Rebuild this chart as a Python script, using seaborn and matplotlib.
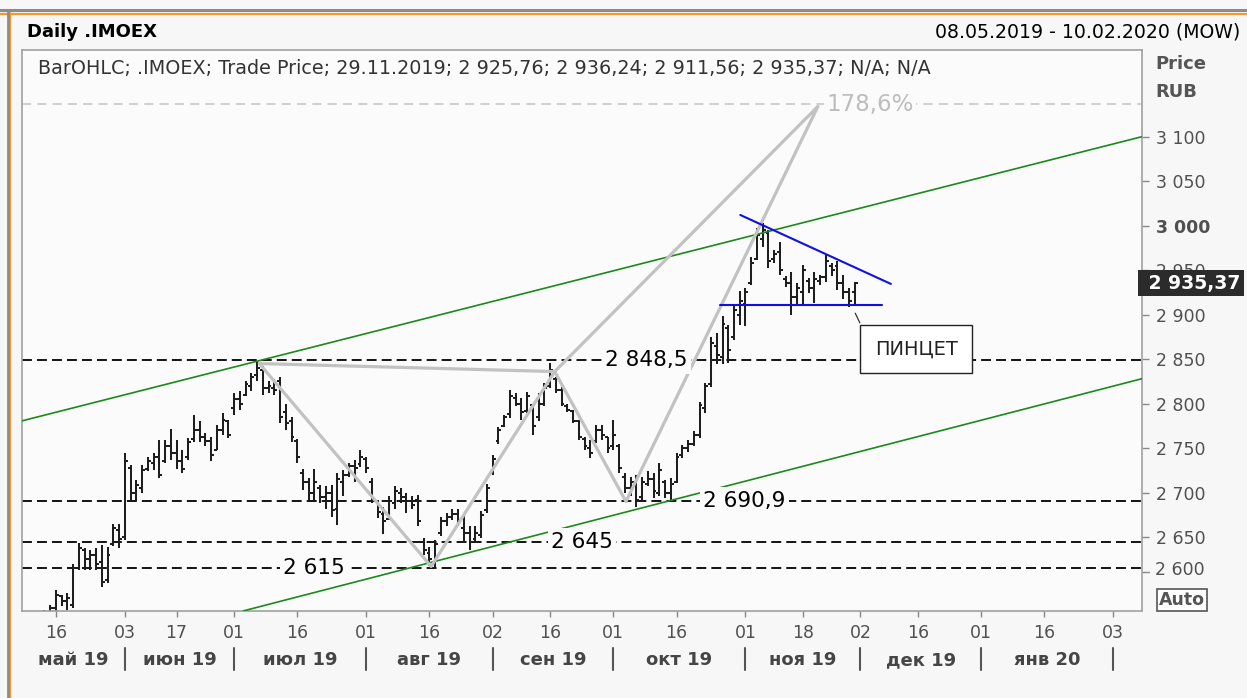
import matplotlib
matplotlib.use('Agg')
import matplotlib.pyplot as plt
import matplotlib.transforms as mtransforms
import seaborn as sns
import pandas as pd
import numpy as np

sns.set_style('white')
plt.rcParams['font.family'] = ['DejaVu Sans']

# daily bars, 08.05.2019 - 29.11.2019 (one value per trading day)
opens = [2535, 2525, 2505, 2560, 2570, 2584, 2578, 2574, 2615, 2636,
         2625, 2630, 2622, 2602, 2642, 2658, 2650, 2728, 2700, 2705,
         2726, 2733, 2740, 2735, 2752, 2745, 2735, 2740, 2760, 2770,
         2762, 2758, 2748, 2770, 2780, 2795, 2805, 2810, 2820, 2832,
         2838, 2818, 2818, 2825, 2790, 2780, 2758, 2722, 2712, 2700,
         2705, 2695, 2700, 2682, 2712, 2720, 2730, 2732, 2738, 2712,
         2690, 2676, 2670, 2688, 2700, 2695, 2690, 2692, 2645, 2632,
         2622, 2655, 2668, 2672, 2676, 2660, 2655, 2648, 2652, 2680,
         2722, 2758, 2775, 2788, 2806, 2800, 2792, 2798, 2785, 2800,
         2820, 2828, 2815, 2797, 2792, 2780, 2760, 2750, 2758, 2770,
         2762, 2752, 2752, 2718, 2705, 2712, 2695, 2710, 2715, 2700,
         2712, 2700, 2712, 2742, 2750, 2755, 2765, 2795, 2822, 2865,
         2852, 2885, 2875, 2900, 2912, 2935, 2962, 2985, 2992, 2962,
         2970, 2940, 2935, 2920, 2925, 2938, 2930, 2938, 2942, 2955,
         2955, 2935, 2925, 2925.76]
highs = [2545, 2530, 2568, 2574, 2590, 2585, 2587, 2620, 2643, 2638,
         2635, 2638, 2641, 2639, 2665, 2665, 2744, 2731, 2714, 2731,
         2740, 2744, 2759, 2759, 2772, 2759, 2748, 2761, 2787, 2780,
         2767, 2763, 2776, 2789, 2782, 2812, 2814, 2825, 2834, 2848,
         2842, 2825, 2828, 2830, 2800, 2785, 2760, 2727, 2716, 2727,
         2708, 2707, 2709, 2722, 2725, 2733, 2737, 2748, 2740, 2716,
         2692, 2684, 2696, 2707, 2705, 2699, 2696, 2697, 2649, 2639,
         2647, 2673, 2677, 2681, 2682, 2677, 2662, 2662, 2679, 2710,
         2742, 2774, 2787, 2815, 2812, 2806, 2813, 2800, 2812, 2823,
         2846, 2830, 2819, 2799, 2793, 2782, 2763, 2759, 2776, 2776,
         2763, 2782, 2755, 2722, 2718, 2720, 2718, 2724, 2722, 2733,
         2714, 2716, 2744, 2754, 2759, 2769, 2802, 2823, 2875, 2879,
         2898, 2888, 2911, 2926, 2930, 2965, 2997, 3003, 2995, 2973,
         2982, 2943, 2948, 2935, 2956, 2941, 2948, 2945, 2967, 2958,
         2960, 2945, 2930, 2936.24]
lows = [2520, 2495, 2500, 2545, 2566, 2572, 2568, 2570, 2613, 2613,
        2613, 2613, 2594, 2598, 2640, 2638, 2647, 2692, 2690, 2699,
        2724, 2725, 2716, 2733, 2737, 2727, 2722, 2737, 2757, 2757,
        2752, 2735, 2748, 2765, 2761, 2787, 2793, 2808, 2814, 2825,
        2810, 2812, 2810, 2778, 2770, 2757, 2733, 2703, 2692, 2692,
        2688, 2682, 2673, 2664, 2696, 2718, 2712, 2729, 2722, 2688,
        2671, 2654, 2669, 2681, 2688, 2677, 2682, 2662, 2630, 2617,
        2615, 2651, 2662, 2669, 2662, 2643, 2636, 2645, 2649, 2677,
        2720, 2755, 2774, 2784, 2797, 2782, 2789, 2765, 2780, 2797,
        2817, 2812, 2797, 2791, 2778, 2759, 2748, 2739, 2756, 2759,
        2744, 2748, 2722, 2699, 2696, 2684, 2692, 2707, 2694, 2696,
        2694, 2690, 2711, 2739, 2746, 2752, 2761, 2789, 2819, 2845,
        2845, 2846, 2872, 2888, 2887, 2933, 2961, 2976, 2952, 2958,
        2945, 2931, 2900, 2911, 2911, 2924, 2913, 2933, 2937, 2943,
        2928, 2918, 2909, 2911.56]
closes = [2525, 2505, 2560, 2570, 2585, 2578, 2582, 2615, 2638, 2625,
          2630, 2620, 2600, 2630, 2660, 2648, 2735, 2700, 2708, 2725,
          2735, 2740, 2720, 2752, 2745, 2735, 2726, 2757, 2770, 2762,
          2758, 2742, 2770, 2782, 2765, 2805, 2800, 2822, 2830, 2840,
          2818, 2820, 2815, 2785, 2778, 2762, 2740, 2712, 2700, 2712,
          2695, 2700, 2680, 2715, 2720, 2730, 2728, 2740, 2728, 2692,
          2678, 2668, 2690, 2702, 2695, 2690, 2686, 2668, 2635, 2625,
          2642, 2668, 2672, 2676, 2668, 2655, 2645, 2655, 2675, 2705,
          2738, 2770, 2785, 2808, 2800, 2790, 2808, 2775, 2800, 2818,
          2838, 2815, 2800, 2793, 2780, 2762, 2752, 2745, 2770, 2765,
          2750, 2765, 2728, 2705, 2712, 2692, 2712, 2715, 2702, 2725,
          2700, 2710, 2740, 2750, 2755, 2765, 2798, 2820, 2868, 2855,
          2890, 2860, 2905, 2915, 2925, 2958, 2990, 2995, 2960, 2968,
          2950, 2935, 2920, 2930, 2950, 2930, 2940, 2942, 2960, 2950,
          2935, 2925, 2915, 2935.37]

# trading calendar of the chart (past days + empty future area)
holidays = ['2019-05-09', '2019-05-10', '2019-06-12', '2019-11-04', '2019-12-31']
days = pd.bdate_range('2019-05-08', '2020-02-10')
days = days[~days.isin(pd.to_datetime(holidays))]

tick_days = ['2019-05-16', '2019-06-03', '2019-06-17', '2019-07-01', '2019-07-16',
             '2019-08-01', '2019-08-16', '2019-09-02', '2019-09-16', '2019-10-01',
             '2019-10-16', '2019-11-01', '2019-11-18', '2019-12-02', '2019-12-16',
             '2020-01-01', '2020-01-16', '2020-02-03']
month_starts = ['2019-06-03', '2019-07-01', '2019-08-01', '2019-09-02', '2019-10-01',
                '2019-11-01', '2019-12-02', '2020-01-01', '2020-02-03']
month_names = ['май 19', 'июн 19', 'июл 19', 'авг 19', 'сен 19',
               'окт 19', 'ноя 19', 'дек 19', 'янв 20']

price_ticks = [2650, 2700, 2750, 2800, 2850, 2900, 2950, 3000, 3050, 3100]

# drawn analysis: levels, channel, pattern, triangle
levels = [2848.5, 2690.9, 2645, 2615]
level_labels = ['2 848,5', '2 690,9', '2 645', '2 615']
level_label_pos = [106.7, 123.8, 95.6, 48.9]
ext_level = 3136.5
upper_channel_x, upper_channel_y = [-1.9, 193], [2780.6, 3100]
lower_channel_x, lower_channel_y = [36.6, 193], [2567, 2828]
pattern_x = [90.8, 39.4, 69.3, 90.8, 103.2, 136.6, 90.8]
pattern_y = [2836, 2845, 2617, 2836, 2690, 3134, 2836]
tri_top_x, tri_top_y = [123.1, 149.3], [3012, 2934.5]
tri_base_x, tri_base_y = [119.5, 147.7], [2910.6, 2910.6]

W, H = 1247, 698
fig = plt.figure(figsize=(W / 100, H / 100), dpi=100, facecolor='#f7f7f7')
ax = fig.add_axes([22 / W, 1 - 611 / H, 1120 / W, 561 / H], facecolor='#fbfbfb')
bg = '#fbfbfb'

x = np.arange(len(closes))
ink = '#1e1e1e'
ax.vlines(x, lows, highs, color=ink, lw=1.45, zorder=2)
ax.hlines(opens, x - 0.5, x, color=ink, lw=1.45, zorder=2)
ax.hlines(closes, x, x + 0.5, color=ink, lw=1.45, zorder=2)

for lv in levels:
    ax.axhline(lv, color='black', lw=1.3, ls=(0, (5.5, 2.8)), zorder=1)
for lv, lab, px in zip(levels, level_labels, level_label_pos):
    ax.text(px, lv, lab, ha='center', va='center', fontsize=15.5, color='black', zorder=4,
            bbox=dict(fc=bg, ec='none', boxstyle='square,pad=0.15'))

ax.axhline(ext_level, color='#c4c4c4', lw=1.1, ls=(0, (6, 4)), zorder=1)
ax.text(136.6 + 1.5, ext_level, '178,6%', ha='left', va='center', fontsize=16.5,
        color='#bdbdbd', zorder=4, bbox=dict(fc=bg, ec='none', boxstyle='square,pad=0.1'))

ax.plot(upper_channel_x, upper_channel_y, color='#1a8a1a', lw=1.2, zorder=3)
ax.plot(lower_channel_x, lower_channel_y, color='#1a8a1a', lw=1.2, zorder=3)
sns.lineplot(x=pattern_x, y=pattern_y, sort=False, estimator=None, ax=ax,
             color='#c2c2c2', lw=2.3, zorder=3)
ax.plot(tri_top_x, tri_top_y, color='#1010e0', lw=1.5, zorder=3)
ax.plot(tri_base_x, tri_base_y, color='#1010e0', lw=1.5, zorder=3)

ax.plot([143.1, 143.9], [2901.6, 2890.7], color='#333333', lw=0.9, zorder=4)
ax.text(153.7, 2861.5, 'ПИНЦЕТ', ha='center', va='center', fontsize=14, color='#222222',
        zorder=5, bbox=dict(fc='white', ec='#222222', lw=1.0, boxstyle='square,pad=0.75'))

ax.set_xlim(-1.9, 193.0)
ax.set_ylim(2566.9, 3197.4)

# header line inside the plot box
ax.text(16 / 1120, 1 - 18 / 561,
        'BarOHLC; .IMOEX; Trade Price; 29.11.2019; 2 925,76; 2 936,24; 2 911,56; 2 935,37; N/A; N/A',
        transform=ax.transAxes, ha='left', va='center', fontsize=13.8, color='#333333')

# axes styling
for s in ax.spines.values():
    s.set_color('#a0a0a0')
    s.set_linewidth(1.2)

tick_pos = days.get_indexer(pd.to_datetime(tick_days))
ax.set_xticks(tick_pos)
ax.set_xticklabels([pd.Timestamp(d).strftime('%d') for d in tick_days])
ax.tick_params(axis='x', bottom=True, length=4, width=1, color='#888888',
               labelsize=12.5, labelcolor='#505050', pad=5)

ax.yaxis.tick_right()
ax.set_yticks(price_ticks)
ax.set_yticklabels([f'{v:,}'.replace(',', ' ') for v in price_ticks])
ax.tick_params(axis='y', right=True, length=5, width=1, color='#888888',
               labelsize=12.5, labelcolor='#505050', pad=5)
for t, v in zip(ax.get_yticklabels(), price_ticks):
    if v == 3000:
        t.set_fontweight('bold')

ytrans = mtransforms.blended_transform_factory(ax.transAxes, ax.transData)
ax.plot([1.0, 1.0 + 7 / 1120], [2611, 2611], transform=ytrans, color='#888888',
        lw=1, clip_on=False)
ax.text(1.0 + 13 / 1120, 2613, '2 600', transform=ytrans, ha='left', va='center',
        fontsize=12.5, color='#505050')
ax.text(1.0, closes[-1], ' 2 935,37', transform=ytrans, ha='left', va='center',
        fontsize=13.5, fontweight='bold', color='white', zorder=6, clip_on=False,
        bbox=dict(fc='#2b2b2b', ec='none', boxstyle='square,pad=0.2'))

# month captions and separators
xtrans = mtransforms.blended_transform_factory(ax.transData, ax.transAxes)
sep_pos = days.get_indexer(pd.to_datetime(month_starts))
bounds = [ax.get_xlim()[0]] + list(sep_pos)
for k, name in enumerate(month_names):
    ax.text((bounds[k] + bounds[k + 1]) / 2, -49 / 561, name, transform=xtrans,
            ha='center', va='center', fontsize=13, fontweight='bold', color='#454545')
for p in sep_pos:
    ax.plot([p, p], [-37 / 561, -59 / 561], transform=xtrans, color='#555555',
            lw=1.5, clip_on=False)

# figure header and side captions
fig.text(27 / W, 1 - 32 / H, 'Daily .IMOEX', ha='left', va='center',
         fontsize=13, fontweight='bold', color='black')
fig.text(1240 / W, 1 - 32 / H, '08.05.2019 - 10.02.2020 (MOW)', ha='right',
         va='center', fontsize=13.6, color='black')
fig.text(1155 / W, 1 - 64 / H, 'Price', ha='left', va='center', fontsize=13,
         fontweight='bold', color='#555555')
fig.text(1155 / W, 1 - 92 / H, 'RUB', ha='left', va='center', fontsize=13,
         fontweight='bold', color='#555555')
fig.text(1182 / W, 1 - 600 / H, 'Auto', ha='center', va='center', fontsize=12.5,
         fontweight='bold', color='#555555',
         bbox=dict(fc='white', ec='#555555', lw=1.2, boxstyle='square,pad=0.1'))

# window frame
fig.add_artist(plt.Line2D([0, 1], [1 - 10 / H, 1 - 10 / H], color='#8c8c8c', lw=2.2))
fig.add_artist(plt.Line2D([0, 1], [1 - 13.5 / H, 1 - 13.5 / H], color='#f39a2b', lw=1.6))
fig.add_artist(plt.Line2D([10 / W, 10 / W], [0, 1 - 13 / H], color='#f39a2b', lw=1.6))
fig.add_artist(plt.Line2D([7.5 / W, 7.5 / W], [0, 1 - 10 / H], color='#8c8c8c', lw=2.0))

fig.savefig('out.png', dpi=100, facecolor=fig.get_facecolor())
